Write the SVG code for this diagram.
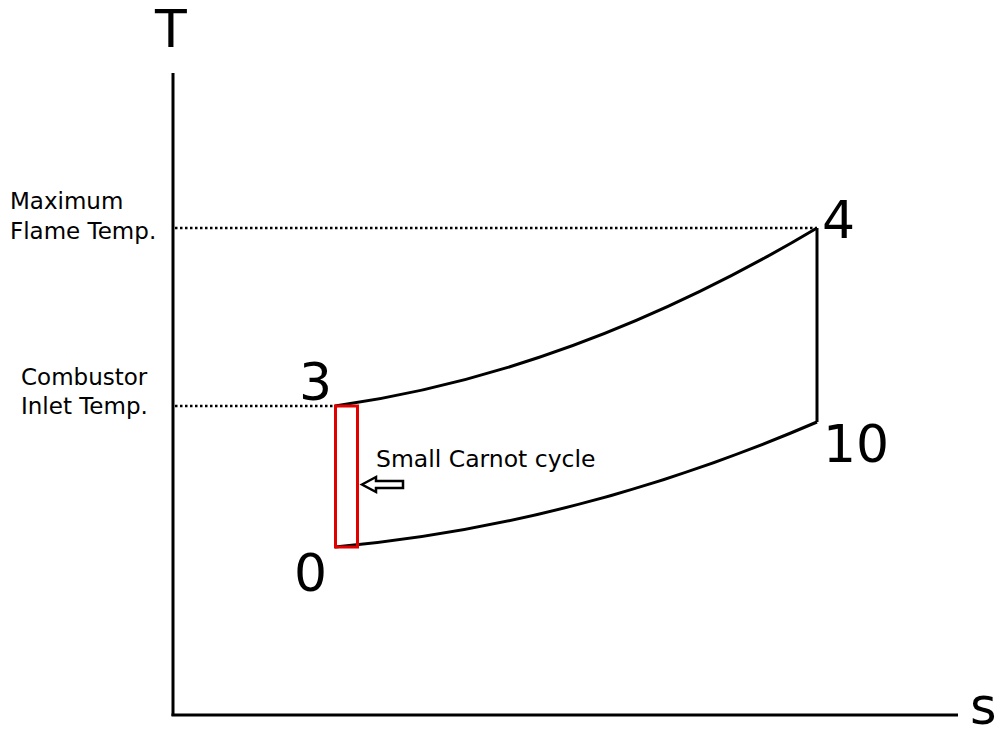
<svg xmlns="http://www.w3.org/2000/svg" width="1001" height="736" viewBox="0 0 1001 736">
<style>
.lbl{font-family:"DejaVu Sans","Liberation Sans",sans-serif;fill:#000}
.big{font-size:52px}
.small{font-size:23px}
.axis{stroke:#000;stroke-width:3;fill:none}
.curve{stroke:#000;stroke-width:3;fill:none}
.dot{stroke:#000;stroke-width:2.5;stroke-dasharray:2.5 2.5;fill:none}
</style>
<rect width="1001" height="736" fill="#fff"/>
<g id="axes">
<line class="axis" x1="173" y1="73" x2="173" y2="716"/>
<line class="axis" x1="171.5" y1="715" x2="958" y2="715"/>
<text class="lbl big" x="171" y="47" text-anchor="middle">T</text>
<text class="lbl" x="970" y="724" font-size="51">s</text>
</g>
<g id="guides">
<line class="dot" x1="175" y1="228" x2="817" y2="228"/>
<line class="dot" x1="175" y1="406" x2="335" y2="406"/>
<text class="lbl small" x="10" y="209">Maximum</text>
<text class="lbl small" x="10" y="239">Flame Temp.</text>
<text class="lbl small" x="21" y="385">Combustor</text>
<text class="lbl small" x="21" y="414">Inlet Temp.</text>
</g>
<g id="connectors">
<path class="curve" d="M335,406 Q576,371.8 817,228"/>
<path class="curve" d="M335,547 Q576,525.5 817,422"/>
<line class="curve" x1="817" y1="228" x2="817" y2="422"/>
<line x1="335" y1="406" x2="335" y2="547" stroke="#000" stroke-width="1.5"/>
</g>
<g id="carnot">
<rect x="335.5" y="406" width="22" height="141" fill="none" stroke="#e00000" stroke-width="3"/>
<path d="M362,484.5 L376,477 L376,481 L403,481 L403,488 L376,488 L376,492 Z" fill="#fff" stroke="#000" stroke-width="2.5" stroke-linejoin="miter"/>
<text class="lbl" x="376" y="467" font-size="23.5">Small Carnot cycle</text>
</g>
<g id="points">
<text class="lbl big" x="299" y="400">3</text>
<text class="lbl big" x="294" y="591">0</text>
<text class="lbl big" x="822" y="238">4</text>
<text class="lbl big" x="823" y="462">10</text>
</g>
</svg>
